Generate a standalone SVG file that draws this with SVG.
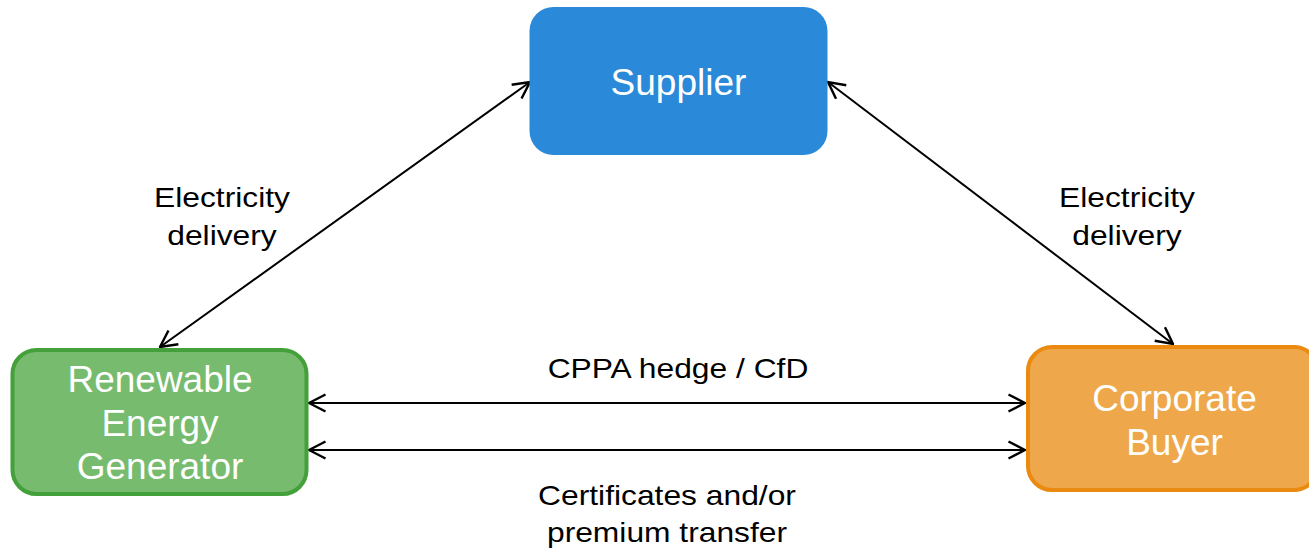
<svg xmlns="http://www.w3.org/2000/svg" width="1309" height="549" viewBox="0 0 1309 549">
<defs>
<marker id="ah" viewBox="0 0 20 20" refX="18.5" refY="10" markerWidth="20" markerHeight="20" markerUnits="userSpaceOnUse" orient="auto-start-reverse">
<path d="M2,1.5 L18.5,10 L2,18.5" fill="none" stroke="#000" stroke-width="2.4"/>
</marker>
<style>
.lbl{font-family:"Liberation Sans",Arial,sans-serif;font-size:28px;fill:#000;text-anchor:middle}
.nt{font-family:"Liberation Sans",Arial,sans-serif;font-size:37px;fill:#fff;text-anchor:middle}
.cn{stroke:#000;stroke-width:2;fill:none;marker-start:url(#ah);marker-end:url(#ah)}
</style>
</defs>
<g id="connectors">
<line class="cn" x1="160" y1="347" x2="530" y2="82"/>
<line class="cn" x1="828" y1="82" x2="1173" y2="344"/>
<line class="cn" x1="309" y1="403" x2="1025" y2="403"/>
<line class="cn" x1="309" y1="450" x2="1025" y2="450"/>
</g>
<g id="supplier">
<rect x="529.5" y="7" width="298" height="148" rx="24" fill="#2a89d8"/>
<text class="nt" x="678.5" y="95">Supplier</text>
</g>
<g id="generator">
<rect x="12.5" y="350" width="294" height="144" rx="24" fill="#77bb6f" stroke="#43a03a" stroke-width="4"/>
<text class="nt" x="160" y="392">Renewable</text>
<text class="nt" x="160" y="436">Energy</text>
<text class="nt" x="160" y="479">Generator</text>
</g>
<g id="buyer">
<rect x="1028" y="347" width="290" height="143" rx="24" fill="#eea84b" stroke="#ea8a10" stroke-width="4"/>
<text class="nt" x="1174.5" y="411">Corporate</text>
<text class="nt" x="1174.5" y="455">Buyer</text>
</g>
<g id="labels">
<text class="lbl" transform="translate(222,207) scale(1.135,1)">Electricity</text>
<text class="lbl" transform="translate(222,245) scale(1.135,1)">delivery</text>
<text class="lbl" transform="translate(1127,207) scale(1.135,1)">Electricity</text>
<text class="lbl" transform="translate(1127,245) scale(1.135,1)">delivery</text>
<text class="lbl" transform="translate(678,378) scale(1.135,1)">CPPA hedge / CfD</text>
<text class="lbl" transform="translate(667,505) scale(1.135,1)">Certificates and/or</text>
<text class="lbl" transform="translate(667,542) scale(1.135,1)">premium transfer</text>
</g>
</svg>
